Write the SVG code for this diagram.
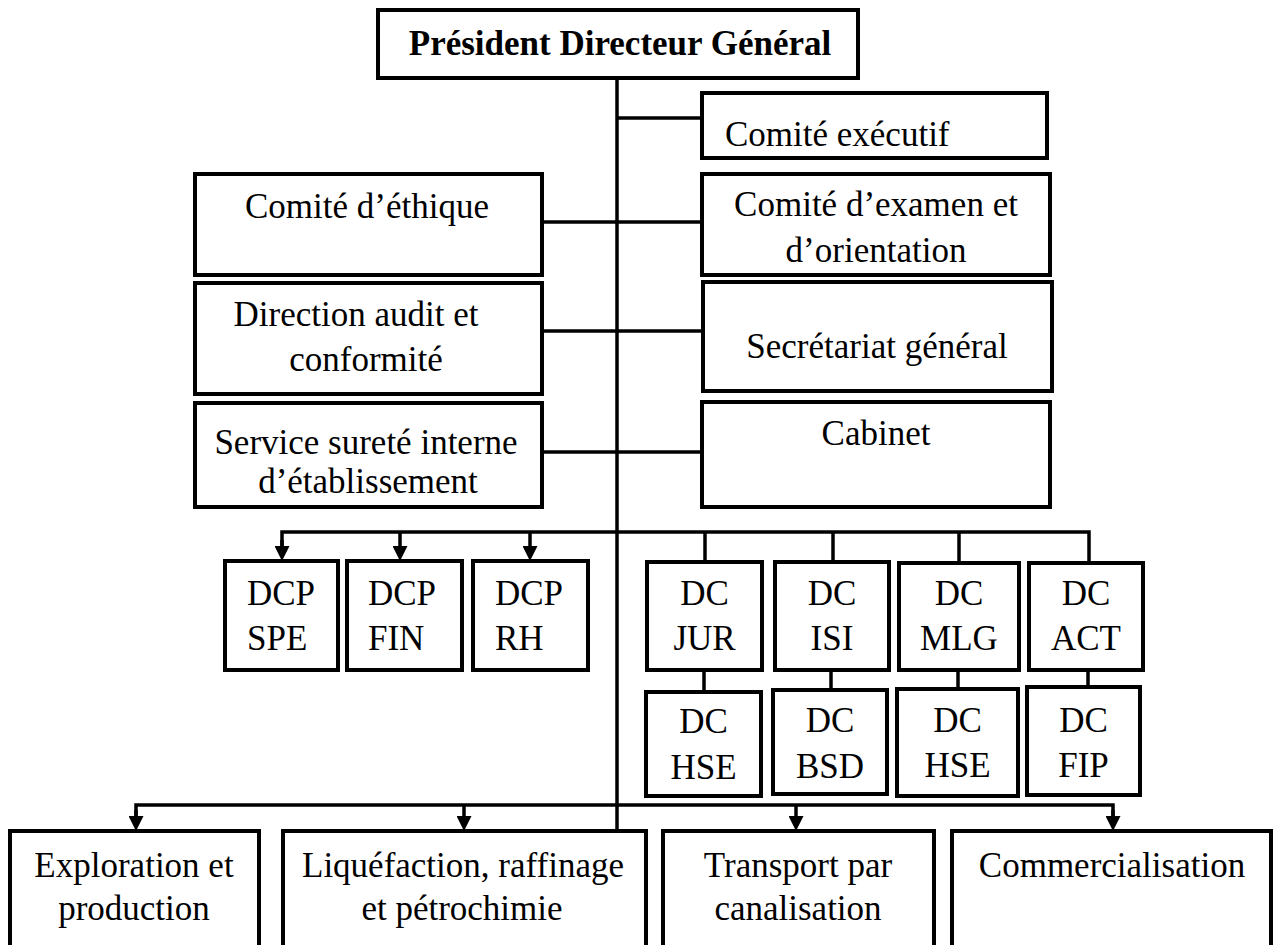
<svg xmlns="http://www.w3.org/2000/svg" width="1275" height="945" viewBox="0 0 1275 945">
<defs>
<style>
.box{fill:#fff;stroke:#000;stroke-width:4}
.ln{fill:none;stroke:#000;stroke-width:3.5}
.t{font-family:"Liberation Serif","Times New Roman",serif;font-size:35px;fill:#000;text-anchor:middle}
.s{text-anchor:start}
.b{font-weight:bold}
</style>
<marker id="ah" viewBox="0 0 15 15" refX="0" refY="7.5" markerWidth="15" markerHeight="15" markerUnits="userSpaceOnUse" orient="auto">
<path d="M0,0 L15,7.5 L0,15 z" fill="#000"/>
</marker>
</defs>
<rect width="1275" height="945" fill="#fff"/>
<g id="connectors">
<line class="ln" x1="617" y1="78" x2="617" y2="831"/>
<line class="ln" x1="617" y1="118" x2="702" y2="118"/>
<line class="ln" x1="542" y1="222" x2="702" y2="222"/>
<line class="ln" x1="542" y1="331" x2="703" y2="331"/>
<line class="ln" x1="542" y1="452" x2="702" y2="452"/>
<polyline class="ln" points="282,546 282,532 1089,532 1089,563"/>
<line class="ln" x1="400" y1="532" x2="400" y2="546" marker-end="url(#ah)"/>
<line class="ln" x1="282" y1="540" x2="282" y2="546" marker-end="url(#ah)"/>
<line class="ln" x1="530" y1="532" x2="530" y2="546" marker-end="url(#ah)"/>
<line class="ln" x1="705" y1="532" x2="705" y2="562"/>
<line class="ln" x1="833" y1="532" x2="833" y2="562"/>
<line class="ln" x1="959" y1="532" x2="959" y2="563"/>
<line class="ln" x1="704" y1="670" x2="704" y2="692"/>
<line class="ln" x1="831" y1="670" x2="831" y2="690"/>
<line class="ln" x1="958" y1="670" x2="958" y2="689"/>
<line class="ln" x1="1088" y1="670" x2="1088" y2="687"/>
<polyline class="ln" points="136,816 136,805 1113,805 1113,816"/>
<line class="ln" x1="136" y1="810" x2="136" y2="816" marker-end="url(#ah)"/>
<line class="ln" x1="464" y1="805" x2="464" y2="816" marker-end="url(#ah)"/>
<line class="ln" x1="796" y1="805" x2="796" y2="816" marker-end="url(#ah)"/>
<line class="ln" x1="1113" y1="810" x2="1113" y2="816" marker-end="url(#ah)"/>
</g>
<g id="pdg"><rect class="box" x="378" y="10" width="480" height="68"/><text class="t b" x="620" y="55">Président Directeur Général</text></g>
<g id="comite-executif"><rect class="box" x="702" y="93" width="345" height="65"/><text class="t s" x="725" y="146">Comité exécutif</text></g>
<g id="comite-ethique"><rect class="box" x="195" y="174" width="347" height="101"/><text class="t" x="367" y="218">Comité d’éthique</text></g>
<g id="comite-examen"><rect class="box" x="702" y="174" width="348" height="101"/><text class="t" x="876" y="216">Comité d’examen et</text><text class="t" x="876" y="262">d’orientation</text></g>
<g id="direction-audit"><rect class="box" x="195" y="283" width="347" height="111"/><text class="t" x="356" y="326">Direction audit et</text><text class="t" x="366" y="371">conformité</text></g>
<g id="secretariat"><rect class="box" x="703" y="282" width="349" height="109"/><text class="t" x="877" y="358">Secrétariat général</text></g>
<g id="service-surete"><rect class="box" x="195" y="403" width="347" height="104"/><text class="t" x="366" y="454">Service sureté interne</text><text class="t" x="368" y="493">d’établissement</text></g>
<g id="cabinet"><rect class="box" x="702" y="402" width="348" height="105"/><text class="t" x="876" y="445">Cabinet</text></g>
<g id="dcp-spe"><rect class="box" x="225" y="561" width="113" height="109"/><text class="t s" x="247" y="605">DCP</text><text class="t s" x="247" y="650">SPE</text></g>
<g id="dcp-fin"><rect class="box" x="347" y="561" width="115" height="109"/><text class="t s" x="368" y="605">DCP</text><text class="t s" x="368" y="650">FIN</text></g>
<g id="dcp-rh"><rect class="box" x="473" y="561" width="115" height="109"/><text class="t s" x="495" y="605">DCP</text><text class="t s" x="495" y="650">RH</text></g>
<g id="dc-jur"><rect class="box" x="647" y="562" width="115" height="108"/><text class="t" x="704.5" y="605">DC</text><text class="t" x="704.5" y="650">JUR</text></g>
<g id="dc-isi"><rect class="box" x="775" y="562" width="114" height="108"/><text class="t" x="832" y="605">DC</text><text class="t" x="832" y="650">ISI</text></g>
<g id="dc-mlg"><rect class="box" x="899" y="563" width="120" height="107"/><text class="t" x="959" y="605">DC</text><text class="t" x="959" y="650">MLG</text></g>
<g id="dc-act"><rect class="box" x="1029" y="563" width="114" height="107"/><text class="t" x="1086" y="605">DC</text><text class="t" x="1086" y="650">ACT</text></g>
<g id="dc-hse-1"><rect class="box" x="646" y="692" width="115" height="104"/><text class="t" x="703.5" y="733">DC</text><text class="t" x="703.5" y="779">HSE</text></g>
<g id="dc-bsd"><rect class="box" x="773" y="690" width="114" height="104"/><text class="t" x="830" y="732">DC</text><text class="t" x="830" y="778">BSD</text></g>
<g id="dc-hse-2"><rect class="box" x="897" y="689" width="121" height="107"/><text class="t" x="957.5" y="732">DC</text><text class="t" x="957.5" y="777">HSE</text></g>
<g id="dc-fip"><rect class="box" x="1027" y="687" width="113" height="108"/><text class="t" x="1083.5" y="732">DC</text><text class="t" x="1083.5" y="777">FIP</text></g>
<g id="exploration"><rect class="box" x="10" y="831" width="249" height="120"/><text class="t" x="134" y="877">Exploration et</text><text class="t" x="134" y="920">production</text></g>
<g id="liquefaction"><rect class="box" x="283" y="831" width="363" height="120"/><text class="t" x="463" y="877">Liquéfaction, raffinage</text><text class="t" x="462" y="920">et pétrochimie</text></g>
<g id="transport"><rect class="box" x="663" y="831" width="271" height="120"/><text class="t" x="798" y="877">Transport par</text><text class="t" x="798" y="920">canalisation</text></g>
<g id="commercialisation"><rect class="box" x="952" y="831" width="319" height="120"/><text class="t" x="1112" y="877">Commercialisation</text></g>
</svg>
